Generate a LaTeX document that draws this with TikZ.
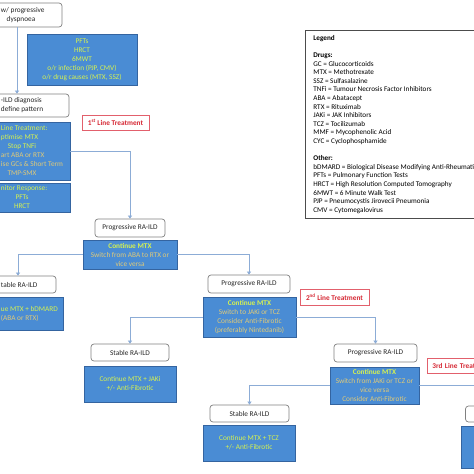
\documentclass[tikz,border=0pt]{standalone}
\usepackage{fontspec}
\setmainfont{Carlito}
\usetikzlibrary{arrows.meta}
\definecolor{boxblue}{RGB}{74,140,212}
\definecolor{boxedge}{RGB}{52,100,160}
\definecolor{linkblue}{RGB}{140,172,214}
\definecolor{hlgreen}{RGB}{214,242,80}
\definecolor{hltan}{RGB}{224,202,120}
\definecolor{tagred}{RGB}{214,40,52}
\definecolor{tagedge}{RGB}{226,96,108}
\newcommand{\grn}[1]{\textcolor{hlgreen}{#1}}
% line that starts at the left edge of the page
\newcommand{\cutl}[2]{\makebox[#1][l]{#2}}

\begin{document}
\begin{tikzpicture}[x=1pt,y=-1pt,
  every node/.style={font=\fontsize{7.3}{9}\selectfont, inner sep=0pt},
  whitebox/.style={draw=black!50, line width=0.7pt, rounded corners=3pt, fill=white, align=center, text=black!85},
  bluebox/.style={draw=boxedge, line width=0.6pt, fill=boxblue, align=center, text=hltan},
  redtag/.style={draw=tagedge, line width=0.8pt, fill=white, text=tagred, font=\fontsize{7.3}{9}\selectfont\bfseries},
  link/.style={draw=linkblue, line width=0.6pt, -{Triangle[width=4pt,length=3pt]}}]
\useasboundingbox (0,0) rectangle (474,474);
\clip (0,0) rectangle (474,474);
% diagnosis column
\node[whitebox, minimum width=82, minimum height=24] (onset) at (21,15) {\cutl{40pt}{w/ progressive}\\dyspnoea};
\node[bluebox, text=hlgreen, minimum width=110, minimum height=51] (workup) at (82,59.5) {PFTs\\HRCT\\6MWT\\o/r infection (PJP, CMV)\\o/r drug causes (MTX, SSZ)};
\node[whitebox, minimum width=96, minimum height=23] (diag) at (21,105.5) {\cutl{40pt}{-ILD diagnosis}\\\cutl{40pt}{define pattern}};
\node[bluebox, minimum width=96, minimum height=58] (treatA) at (22,151) {\cutl{42pt}{\grn{Line Treatment:}}\\\cutl{42pt}{\grn{ptimise MTX}}\\\grn{Stop TNFi}\\\cutl{42pt}{art ABA or RTX}\\\cutl{42pt}{ise GCs \& Short Term}\\TMP-SMX};
\node[bluebox, text=hlgreen, minimum width=96, minimum height=29] (monitor) at (22,197.5) {\cutl{42pt}{nitor Response:}\\PFTs\\HRCT};
\node[redtag, minimum width=67, minimum height=15] (tagA) at (115.5,122.5) {1\textsuperscript{st} Line Treatment};
% 1st line outcome
\node[whitebox, minimum width=70, minimum height=18] (progA) at (130,228) {Progressive RA-ILD};
\node[bluebox, minimum width=94, minimum height=29] (treatB) at (130,254.5) {\grn{\bfseries Continue MTX}\\Switch from ABA to RTX or\\vice versa};
\node[whitebox, minimum width=76, minimum height=17] (stableA) at (18,284.5) {\cutl{34pt}{table RA-ILD}};
\node[bluebox, minimum width=86, minimum height=33] (keepA) at (20,313.5) {\cutl{38pt}{\grn{ue MTX + bDMARD}}\\\cutl{38pt}{(ABA or RTX)}};
% 2nd line
\node[whitebox, minimum width=82, minimum height=18] (progB) at (249,284) {Progressive RA-ILD};
\node[bluebox, minimum width=93, minimum height=40] (treatC) at (249.5,317) {\grn{\bfseries Continue MTX}\\Switch to JAKi or TCZ\\Consider Anti-Fibrotic\\(preferably Nintedanib)};
\node[redtag, minimum width=69, minimum height=16] (tagB) at (334.5,297) {2\textsuperscript{nd} Line Treatment};
\node[whitebox, minimum width=78, minimum height=17] (stableB) at (130,352.5) {Stable RA-ILD};
\node[bluebox, text=hlgreen, minimum width=92, minimum height=36] (keepB) at (130,384) {Continue MTX + JAKi\\+/- Anti-Fibrotic};
% 3rd line
\node[whitebox, minimum width=83, minimum height=18] (progC) at (375.5,353) {Progressive RA-ILD};
\node[bluebox, minimum width=89, minimum height=37] (treatD) at (374.5,385.5) {\grn{\bfseries Continue MTX}\\Switch from JAKi or TCZ or\\vice versa\\Consider Anti-Fibrotic};
\node[redtag, anchor=west, text width=60, inner xsep=5pt, align=left, minimum height=15] (tagC) at (427,365.5) {3rd Line Treat};
\node[whitebox, minimum width=79, minimum height=17] (stableC) at (249.5,413.5) {Stable RA-ILD};
\node[bluebox, text=hlgreen, minimum width=92, minimum height=36] (keepC) at (249,443) {Continue MTX + TCZ\\+/- Anti-Fibrotic};
\node[whitebox, minimum width=79, minimum height=16] (progD) at (505,414) {};
\node[bluebox, minimum width=92, minimum height=42] (treatE) at (507,447) {};
% legend
\node[draw=black!70, line width=0.8pt, anchor=north west, align=left, inner xsep=8pt, inner ysep=4pt, minimum height=188, font=\fontsize{7.2}{8.6}\selectfont] (legend) at (305,30) {%
\textbf{Legend}\\[8.6pt]
\textbf{Drugs:}\\
GC = Glucocorticoids\\
MTX = Methotrexate\\
SSZ = Sulfasalazine\\
TNFi = Tumour Necrosis Factor Inhibitors\\
ABA = Abatacept\\
RTX = Rituximab\\
JAKi = JAK Inhibitors\\
TCZ = Tocilizumab\\
MMF = Mycophenolic Acid\\
CYC = Cyclophosphamide\\[8.6pt]
\textbf{Other:}\\
bDMARD = Biological Disease Modifying Anti-Rheumati\\
PFTs = Pulmonary Function Tests\\
HRCT = High Resolution Computed Tomography\\
6MWT = 6 Minute Walk Test\\
PJP = Pneumocystis Jirovecii Pneumonia\\
CMV = Cytomegalovirus};
% connectors
\draw[link] ([xshift=-4pt]onset.south) -- ([xshift=-4pt]diag.north);
\draw[link] (treatA.east) -| (progA.north);
\draw[link] (treatB.west) -| (stableA.north);
\draw[link] (treatB.east) -| (progB.north);
\draw[link] (treatC.west) -| (stableB.north);
\draw[link] (treatC.east) -| (progC.north);
\draw[link] (treatD.west) -| (stableC.north);
\draw[link] (treatD.east) -| (progD.north);
\end{tikzpicture}
\end{document}
